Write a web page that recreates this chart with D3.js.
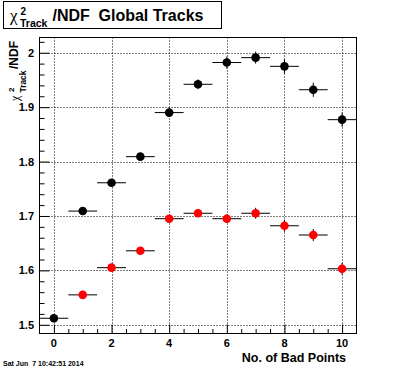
<!DOCTYPE html>
<html>
<head>
<meta charset="utf-8">
<script src="https://cdn.jsdelivr.net/npm/d3@7"></script>
<style>
  body { margin: 0; background: #fff; }
  svg { display: block; font-family: "Liberation Sans", Arial, sans-serif; font-weight: bold; }
</style>
</head>
<body>
<div id="chart"></div>
<script>
'use strict';

// bins (number of bad points)
const badPoints = [0, 1, 2, 3, 4, 5, 6, 7, 8, 9, 10];
// global tracks (black)
const blackValues = [1.512, 1.709, 1.761, 1.809, 1.890, 1.942, 1.982, 1.991, 1.975, 1.932, 1.877];
const blackErrors = [0.004, 0.004, 0.005, 0.005, 0.008, 0.009, 0.011, 0.011, 0.013, 0.013, 0.013];
// second set (red)
const redPoints = [1, 2, 3, 4, 5, 6, 7, 8, 9, 10];
const redValues = [1.555, 1.605, 1.636, 1.695, 1.705, 1.695, 1.705, 1.682, 1.665, 1.603];
const redErrors = [0.004, 0.005, 0.005, 0.006, 0.007, 0.008, 0.010, 0.011, 0.011, 0.011];
const xTicks = [0, 2, 4, 6, 8, 10];
const yTicks = [1.5, 1.6, 1.7, 1.8, 1.9, 2.0];

const width = 396, height = 372;
const frame = {left: 39.5, right: 356.5, top: 37.5, bottom: 333.5};

const svg = d3.select("#chart")
  .append("svg")
    .attr("width", width)
    .attr("height", height);

svg.append("rect")
    .attr("width", width)
    .attr("height", height)
    .attr("fill", "#fff");

const x = d3.scaleLinear()
  .domain([-0.5, 10.5])
  .range([frame.left, frame.right]);

const y = d3.scaleLinear()
  .domain([1.484, 2.028])
  .range([frame.bottom, frame.top]);

// dotted grid
svg.append("g")
  .selectAll("line")
  .data(xTicks)
  .join("line")
    .attr("x1", d => Math.round(x(d)) + 0.5)
    .attr("x2", d => Math.round(x(d)) + 0.5)
    .attr("y1", frame.top)
    .attr("y2", frame.bottom)
    .attr("stroke", "#000")
    .attr("stroke-dasharray", "1,2");

svg.append("g")
  .selectAll("line")
  .data(yTicks)
  .join("line")
    .attr("x1", frame.left)
    .attr("x2", frame.right)
    .attr("y1", d => Math.round(y(d)) + 0.5)
    .attr("y2", d => Math.round(y(d)) + 0.5)
    .attr("stroke", "#000")
    .attr("stroke-dasharray", "1,2");

// x axis: major ticks at 2, minor at 0.5, drawn inward
const xAxis = d3.axisTop(x)
  .tickValues(d3.range(-0.5, 10.51, 0.5).filter(v => v > -0.5 && v < 10.5))
  .tickSize(4.5)
  .tickFormat("");
const gx = svg.append("g")
  .attr("transform", `translate(0,${frame.bottom})`)
  .call(xAxis);
gx.select(".domain").remove();
gx.selectAll(".tick line")
  .attr("y2", d => xTicks.includes(d) ? -9 : -4.5);

svg.append("g")
  .selectAll("text")
  .data(xTicks)
  .join("text")
    .attr("x", d => x(d))
    .attr("y", 347)
    .attr("text-anchor", "middle")
    .attr("font-size", 11)
    .text(d => d);

// y axis: major ticks at 0.1, minor at 0.02, drawn inward
const yAxis = d3.axisRight(y)
  .tickValues(d3.range(1.49, 2.03, 0.01).map(v => Math.round(v * 100) / 100).filter(v => Math.round(v * 100) % 2 === 0))
  .tickSize(5)
  .tickFormat("");
const gy = svg.append("g")
  .attr("transform", `translate(${frame.left},0)`)
  .call(yAxis);
gy.select(".domain").remove();
gy.selectAll(".tick line")
  .attr("x2", d => Math.round(d * 100) % 10 === 0 ? 10 : 5);

svg.append("g")
  .selectAll("text")
  .data(yTicks)
  .join("text")
    .attr("x", 34)
    .attr("y", d => y(d))
    .attr("dy", "0.36em")
    .attr("text-anchor", "end")
    .attr("font-size", 11)
    .text(d => d === 2 ? "2" : d.toFixed(1));

// frame
svg.append("rect")
    .attr("x", frame.left)
    .attr("y", frame.top)
    .attr("width", frame.right - frame.left)
    .attr("height", frame.bottom - frame.top)
    .attr("fill", "none")
    .attr("stroke", "#000");

// points with error bars
function drawSeries(xs, vals, errs, color) {
    const g = svg.append("g");
    const data = xs.map((d, i) => ({x: d, v: vals[i], e: errs[i]}));
    g.selectAll("line.h")
      .data(data)
      .join("line")
        .attr("class", "h")
        .attr("x1", d => x(d.x - 0.5))
        .attr("x2", d => x(d.x + 0.5))
        .attr("y1", d => y(d.v))
        .attr("y2", d => y(d.v))
        .attr("stroke", "#000");
    g.selectAll("line.v")
      .data(data)
      .join("line")
        .attr("class", "v")
        .attr("x1", d => x(d.x))
        .attr("x2", d => x(d.x))
        .attr("y1", d => y(d.v - d.e))
        .attr("y2", d => y(d.v + d.e))
        .attr("stroke", "#000");
    g.selectAll("circle")
      .data(data)
      .join("circle")
        .attr("cx", d => x(d.x))
        .attr("cy", d => y(d.v))
        .attr("r", 4.3)
        .attr("fill", color);
}
drawSeries(badPoints, blackValues, blackErrors, "#000");
drawSeries(redPoints, redValues, redErrors, "#ff0000");

// x axis title
svg.append("text")
    .attr("x", 346)
    .attr("y", 362)
    .attr("text-anchor", "end")
    .attr("font-size", 12.5)
    .text("No. of Bad Points");

// y axis title
const yTitle = svg.append("text")
    .attr("transform", "rotate(-90)");
yTitle.append("tspan")
    .attr("x", -101).attr("y", 19)
    .attr("font-family", "Liberation Serif, serif")
    .attr("font-weight", "normal")
    .attr("font-size", 12)
    .text("χ");
yTitle.append("tspan")
    .attr("x", -92).attr("y", 14)
    .attr("font-size", 8)
    .text("2");
yTitle.append("tspan")
    .attr("x", -92.5).attr("y", 25.5)
    .attr("font-size", 8.4)
    .text("Track");
yTitle.append("tspan")
    .attr("x", -69).attr("y", 17.5)
    .attr("font-size", 12)
    .text("/NDF");

// title box
svg.append("rect")
    .attr("x", 3.5)
    .attr("y", 1.5)
    .attr("width", 218)
    .attr("height", 27)
    .attr("fill", "#fff")
    .attr("stroke", "#000");

const title = svg.append("text");
title.append("tspan")
    .attr("x", 10).attr("y", 21)
    .attr("font-family", "Liberation Serif, serif")
    .attr("font-weight", "normal")
    .attr("font-size", 17)
    .text("χ");
title.append("tspan")
    .attr("x", 20.5).attr("y", 15)
    .attr("font-size", 10)
    .text("2");
title.append("tspan")
    .attr("x", 20).attr("y", 26.5)
    .attr("font-size", 10.5)
    .text("Track");
title.append("tspan")
    .attr("x", 52.5).attr("y", 20.7)
    .attr("font-size", 16)
    .text("/NDF");
title.append("tspan")
    .attr("x", 98.5).attr("y", 20.7)
    .attr("font-size", 16)
    .text("Global Tracks");

// date stamp
svg.append("text")
    .attr("x", 3)
    .attr("y", 366)
    .attr("font-size", 7)
    .text("Sat Jun  7 10:42:51 2014")
    .style("white-space", "pre");
</script>
</body>
</html>
